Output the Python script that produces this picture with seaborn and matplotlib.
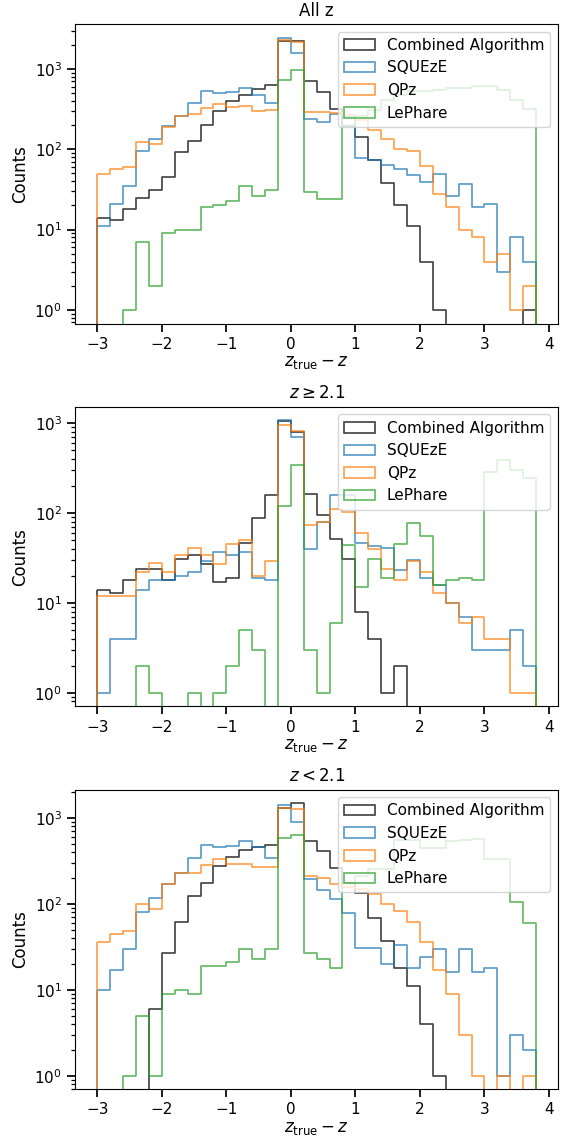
import numpy as np
import pandas as pd
import matplotlib
matplotlib.use("Agg")
import matplotlib.pyplot as plt
from matplotlib.colors import to_rgba
import seaborn as sns

# ---------------- data ----------------
bin_edges = [-3.0, -2.8, -2.6, -2.4, -2.2, -2.0, -1.8, -1.6, -1.4, -1.2, -1.0,
             -0.8, -0.6, -0.4, -0.2, 0.0, 0.2, 0.4, 0.6, 0.8, 1.0, 1.2, 1.4,
             1.6, 1.8, 2.0, 2.2, 2.4, 2.6, 2.8, 3.0, 3.2, 3.4, 3.6, 3.8]

series_names = ["Combined Algorithm", "SQUEzE", "QPz", "LePhare"]
series_colors = ["black", "tab:blue", "tab:orange", "tab:green"]
panel_titles = ["All z", r"$z \geq 2.1$", r"$z < 2.1$"]

# Panel 1: all z
all_combined = [14, 13, 18, 25, 31, 45, 93, 128, 201, 297, 395, 469, 562, 636, 2260, 2260,
                700, 511, 320, 193, 143, 74, 38, 20, 11, 4, 1, 0, 0, 0, 0, 0, 0, 1]
all_squeze = [11, 21, 35, 96, 135, 193, 257, 377, 525, 500, 515, 583, 478, 377, 2460, 1600,
              239, 219, 276, 250, 77, 73, 63, 56, 48, 39, 49, 26, 37, 19, 21, 3, 8, 4]
all_qpz = [49, 56, 60, 122, 117, 188, 262, 276, 324, 367, 333, 342, 297, 305, 2300, 2150,
           292, 292, 283, 270, 234, 176, 135, 101, 95, 62, 28, 19, 10, 8, 4, 5, 1, 2]
all_lephare = [0, 0, 1, 7, 2, 9, 10, 10, 19, 20, 23, 35, 26, 31, 720, 975,
               29, 24, 24, 197, 257, 310, 414, 478, 535, 535, 540, 578, 578, 607, 620, 551, 414, 317]

# Panel 2: z >= 2.1
hi_combined = [14, 13, 18, 24, 24, 18, 31, 34, 27, 17, 19, 46, 88, 160, 1044, 794,
               163, 94, 51, 31, 8, 4, 1, 2, 0, 0, 0, 0, 0, 0, 0, 0, 0, 0]
hi_squeze = [1, 4, 4, 14, 18, 18, 20, 22, 29, 37, 34, 37, 19, 18, 1070, 699,
             40, 79, 160, 160, 46, 43, 41, 23, 30, 19, 16, 10, 7, 3, 3, 3, 5, 2]
hi_qpz = [12, 12, 12, 22, 28, 22, 34, 41, 34, 27, 45, 50, 20, 29, 942, 808,
          73, 79, 111, 102, 60, 40, 24, 18, 29, 22, 13, 10, 6, 7, 4, 4, 1, 1]
hi_lephare = [0, 0, 0, 2, 1, 0, 0, 1, 0, 1, 2, 5, 3, 0, 119, 344,
              3, 1, 6, 44, 15, 31, 19, 45, 77, 55, 16, 18, 19, 18, 283, 391, 303, 245]

# Panel 3: z < 2.1
lo_combined = [0, 0, 0, 0, 6, 27, 62, 122, 174, 277, 355, 424, 464, 481, 1320, 1480,
               540, 413, 264, 177, 135, 69, 37, 18, 11, 4, 1, 0, 0, 0, 0, 0, 0, 0]
lo_squeze = [10, 17, 30, 81, 116, 172, 231, 346, 485, 464, 475, 540, 464, 346, 1400, 898,
             197, 145, 113, 78, 31, 31, 20, 33, 18, 24, 30, 16, 30, 16, 18, 1, 3, 2]
lo_qpz = [36, 44, 48, 99, 87, 169, 227, 231, 284, 336, 289, 289, 272, 272, 1320, 1285,
          212, 202, 172, 155, 148, 129, 99, 83, 61, 36, 17, 9, 3, 1, 0, 1, 0, 1]
lo_lephare = [0, 0, 1, 5, 1, 9, 10, 9, 19, 19, 21, 30, 23, 30, 591, 629,
              27, 23, 18, 177, 212, 253, 253, 555, 555, 452, 452, 540, 555, 575, 336, 336, 104, 60]

panels = [
    [all_combined, all_squeze, all_qpz, all_lephare],
    [hi_combined, hi_squeze, hi_qpz, hi_lephare],
    [lo_combined, lo_squeze, lo_qpz, lo_lephare],
]

# ---------------- style ----------------
sns.set_style("white")
sns.set_context("notebook")
plt.rcParams.update({
    "font.family": ["DejaVu Sans"],
    "axes.labelsize": 12,
    "axes.titlesize": 12,
    "xtick.labelsize": 11,
    "ytick.labelsize": 11,
    "legend.fontsize": 11,
    "axes.edgecolor": "black",
    "axes.linewidth": 0.8,
    "xtick.bottom": True,
    "ytick.left": True,
    "xtick.major.size": 6,
    "ytick.major.size": 6,
    "xtick.major.width": 1.25,
    "ytick.major.width": 1.25,
    "ytick.minor.size": 3,
    "ytick.minor.width": 0.9,
    "xtick.color": "black",
    "ytick.color": "black",
    "axes.labelcolor": "black",
    "text.color": "black",
})

centers = [(a + b) / 2 for a, b in zip(bin_edges[:-1], bin_edges[1:])]

fig, axes = plt.subplots(3, 1, figsize=(5.68, 11.4), dpi=100)
fig.subplots_adjust(left=0.1326, right=0.9824, top=0.979, bottom=0.0445, hspace=0.278)

for ax, title, counts_list in zip(axes, panel_titles, panels):
    for name, color, counts in zip(series_names, series_colors, counts_list):
        df = pd.DataFrame({"x": centers, "w": [float(c) for c in counts]})
        sns.histplot(data=df, x="x", weights="w", bins=list(bin_edges), element="step",
                     fill=True, color=color, facecolor="none",
                     edgecolor=to_rgba(color, 0.75),
                     linewidth=1.2, label=name, ax=ax)
    ax.set_yscale("log")
    ax.set_title(title)
    ax.set_xlabel(r"$z_{\rm true} - z$", labelpad=1)
    ax.set_ylabel("Counts")
    ax.set_xticks([-3, -2, -1, 0, 1, 2, 3, 4])
    ax.legend(loc="upper right", framealpha=0.8)
    ax.relim()
    ax.autoscale_view()

fig.savefig("out.png", dpi=100)
